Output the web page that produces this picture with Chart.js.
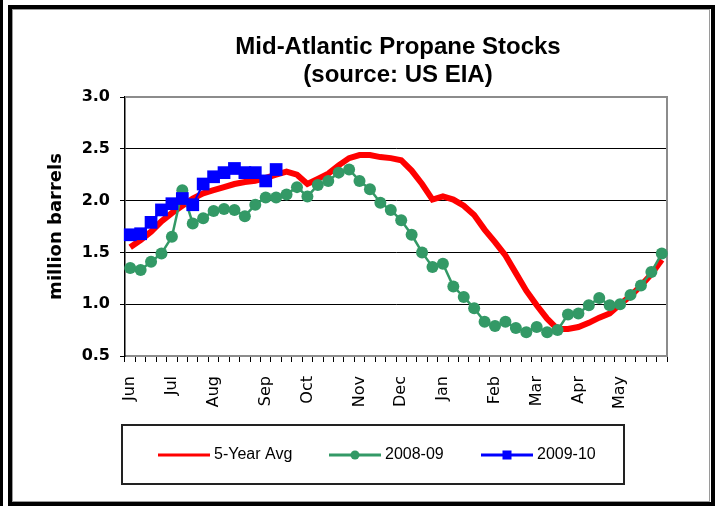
<!DOCTYPE html>
<html>
<head>
<meta charset="utf-8">
<title>Mid-Atlantic Propane Stocks</title>
<script src="https://cdn.jsdelivr.net/npm/chart.js@4.4.0/dist/chart.umd.min.js"></script>
<style>
    html, body { margin: 0; padding: 0; background: #fff; }
    #wrap { position: relative; width: 719px; height: 506px; }
</style>
</head>
<body>
<div id="wrap"><canvas id="stocksChart" width="719" height="506"></canvas></div>
<script>
// Weekly propane stocks, million barrels (week 0 = first week of June)
const weekCount = 52;
const monthNames = ['Jun', 'Jul', 'Aug', 'Sep', 'Oct', 'Nov', 'Dec', 'Jan', 'Feb', 'Mar', 'Apr', 'May'];
const monthWeeks = [0, 4, 8, 13, 17, 22, 26, 30, 35, 39, 43, 47];

const yMin = 0.5;
const yMax = 3.0;
const yStep = 0.5;

const seriesNames = ['5-Year Avg', '2008-09', '2009-10'];

const avgFiveYear = [
    1.55, 1.62, 1.70, 1.80, 1.88, 1.95, 2.02, 2.07, 2.10, 2.13,
    2.16, 2.18, 2.19, 2.22, 2.25, 2.28, 2.25, 2.16, 2.21, 2.26,
    2.34, 2.41, 2.44, 2.44, 2.42, 2.41, 2.39, 2.29, 2.16, 2.01,
    2.04, 2.01, 1.95, 1.86, 1.72, 1.60, 1.47, 1.30, 1.13, 0.99,
    0.86, 0.76, 0.76, 0.78, 0.82, 0.87, 0.91, 1.00, 1.08, 1.18,
    1.29, 1.43
];

const stocks0809 = [
    1.35, 1.33, 1.41, 1.49, 1.65, 2.10, 1.78, 1.83, 1.90, 1.92,
    1.91, 1.85, 1.96, 2.03, 2.03, 2.06, 2.13, 2.04, 2.15, 2.19,
    2.27, 2.30, 2.19, 2.11, 1.98, 1.91, 1.81, 1.67, 1.50, 1.36,
    1.39, 1.17, 1.07, 0.96, 0.83, 0.79, 0.83, 0.77, 0.73, 0.78,
    0.73, 0.75, 0.90, 0.91, 0.99, 1.06, 0.99, 1.00, 1.09, 1.18,
    1.31, 1.49
];

const stocks0910 = [
    1.67, 1.68, 1.79, 1.91, 1.97, 2.02, 1.96, 2.16, 2.23, 2.27,
    2.31, 2.27, 2.27, 2.19, 2.30
];

// only the first week of each month gets a label
const weekLabels = Array.from({ length: weekCount }, (_, i) => {
    const m = monthWeeks.indexOf(i);
    return m >= 0 ? monthNames[m] : '';
});

const colors = ['#ff0000', '#339966', '#0000ff'];

// frame, title, plot border and boxed legend
const decorPlugin = {
    id: 'decor',
    beforeDraw(chart) {
        const ctx = chart.ctx;
        ctx.save();
        ctx.fillStyle = '#fff';
        ctx.fillRect(0, 0, chart.width, chart.height);
        ctx.fillStyle = '#000';
        ctx.fillRect(0, 0, 3, chart.height);
        ctx.strokeStyle = '#000';
        ctx.lineWidth = 4;
        ctx.strokeRect(10, 7, 703, 497);
        ctx.strokeStyle = '#9a9a9a';
        ctx.lineWidth = 1;
        ctx.strokeRect(12.5, 9.5, 697, 492);
        ctx.restore();
    },
    beforeDatasetsDraw(chart) {
        const { ctx, chartArea: a } = chart;
        ctx.save();
        ctx.strokeStyle = '#8c8c8c';
        ctx.lineWidth = 2;
        ctx.beginPath();
        ctx.moveTo(a.left, a.top);
        ctx.lineTo(a.right, a.top);
        ctx.lineTo(a.right, a.bottom);
        ctx.stroke();
        ctx.restore();
    },
    afterDraw(chart) {
        const ctx = chart.ctx;
        ctx.save();

        // title
        ctx.fillStyle = '#000';
        ctx.textAlign = 'center';
        ctx.textBaseline = 'middle';
        ctx.font = 'bold 24px "Liberation Sans", Arial, sans-serif';
        ctx.fillText('Mid-Atlantic Propane Stocks', 398, 47);
        ctx.fillText('(source: US EIA)', 398, 75);

        // legend box
        ctx.strokeStyle = '#222';
        ctx.lineWidth = 2;
        ctx.strokeRect(122, 425, 502, 59);

        const lineX = [158, 329, 481];
        const ly = 455;
        ctx.textAlign = 'left';
        ctx.font = '16px "Liberation Sans", Arial, sans-serif';
        chart.data.datasets.forEach((ds, i) => {
            const x0 = lineX[i];
            ctx.strokeStyle = ds.borderColor;
            ctx.lineWidth = 3;
            ctx.beginPath();
            ctx.moveTo(x0, ly);
            ctx.lineTo(x0 + 52, ly);
            ctx.stroke();
            ctx.fillStyle = ds.borderColor;
            if (ds.pointStyle === 'circle' && ds.pointRadius > 0) {
                ctx.beginPath();
                ctx.arc(x0 + 26, ly, 4.5, 0, Math.PI * 2);
                ctx.fill();
            } else if (ds.pointStyle === 'rect') {
                ctx.fillRect(x0 + 26 - 4.5, ly - 4.5, 9, 9);
            }
            ctx.fillStyle = '#000';
            ctx.fillText(ds.label, x0 + 56, ly);
        });
        ctx.restore();
    }
};

const ctx = document.getElementById('stocksChart').getContext('2d');
new Chart(ctx, {
    type: 'line',
    data: {
        labels: weekLabels,
        datasets: [{
            label: seriesNames[0],
            data: avgFiveYear,
            borderColor: colors[0],
            backgroundColor: colors[0],
            borderWidth: 6,
            pointRadius: 0,
            pointStyle: 'circle',
            tension: 0,
            order: 3
        }, {
            label: seriesNames[1],
            data: stocks0809,
            borderColor: colors[1],
            backgroundColor: colors[1],
            borderWidth: 2.5,
            pointRadius: 6,
            pointStyle: 'circle',
            pointBorderWidth: 0,
            tension: 0,
            order: 2
        }, {
            label: seriesNames[2],
            data: stocks0910,
            borderColor: colors[2],
            backgroundColor: colors[2],
            borderWidth: 2,
            pointRadius: 9,
            pointStyle: 'rect',
            pointBorderWidth: 0,
            tension: 0,
            order: 1
        }]
    },
    options: {
        responsive: false,
        animation: false,
        devicePixelRatio: 1,
        layout: {
            padding: { top: 97, left: 40, right: 52, bottom: 90 }
        },
        plugins: {
            legend: { display: false },
            title: { display: false },
            tooltip: { enabled: false }
        },
        elements: {
            line: { clip: false }
        },
        scales: {
            x: {
                offset: true,
                grid: {
                    display: true,
                    drawOnChartArea: false,
                    drawTicks: true,
                    tickLength: 6,
                    color: '#000',
                    offset: true
                },
                border: { display: true, color: '#8c8c8c', width: 2 },
                ticks: {
                    autoSkip: false,
                    minRotation: 90,
                    maxRotation: 90,
                    padding: 14,
                    color: '#000',
                    font: { family: '"DejaVu Sans"', size: 16 }
                },
                afterFit(scale) { scale.height = 60; }
            },
            y: {
                min: yMin,
                max: yMax,
                grid: {
                    color: '#000',
                    lineWidth: 1,
                    tickLength: 5
                },
                border: { display: true, color: '#000', width: 1.5 },
                ticks: {
                    stepSize: yStep,
                    padding: 10,
                    color: '#000',
                    font: { family: '"DejaVu Sans"', weight: 'bold', size: 16 },
                    callback: (v) => v.toFixed(1)
                },
                title: {
                    display: true,
                    text: 'million barrels',
                    color: '#000',
                    font: { family: '"DejaVu Sans"', weight: 'bold', size: 18 },
                    padding: { top: 6, bottom: 0 }
                },
                afterFit(scale) { scale.width = 85; }
            }
        }
    },
    plugins: [decorPlugin]
});
</script>
</body>
</html>
